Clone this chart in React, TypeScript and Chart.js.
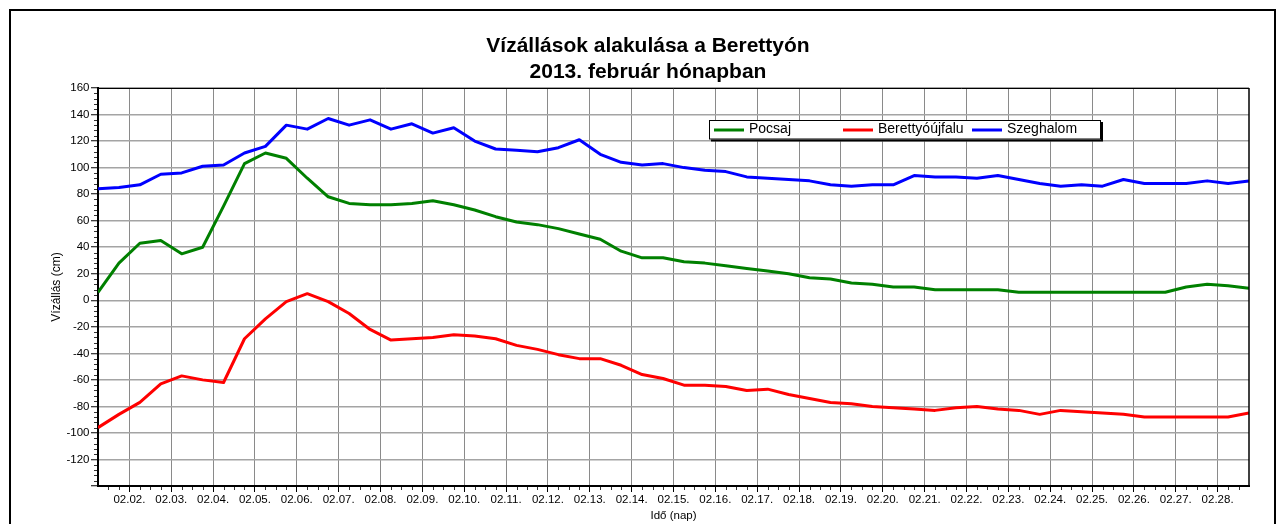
import React, { useEffect, useRef } from 'react';
import { Chart, registerables } from 'chart.js';

Chart.register(...registerables);

// Readings twice a day (06:00 and 18:00), February 2013, x value = day of month + hour/24
const readingDays = [1, 2, 3, 4, 5, 6, 7, 8, 9, 10, 11, 12, 13, 14, 15, 16, 17, 18, 19, 20, 21, 22, 23, 24, 25, 26, 27, 28];
const readingHours = [6, 18];
const readingTimes = readingDays.flatMap((d) => readingHours.map((h) => d + h / 24));

const pocsaj = [
  6, 28, 43, 45, 35, 40, 71, 103, 111, 107, 92, 78, 73, 72,
  72, 73, 75, 72, 68, 63, 59, 57, 54, 50, 46, 37, 32, 32,
  29, 28, 26, 24, 22, 20, 17, 16, 13, 12, 10, 10, 8, 8,
  8, 8, 6, 6, 6, 6, 6, 6, 6, 6, 10, 12, 11, 9,
];

const berettyoujfalu = [
  -96, -86, -77, -63, -57, -60, -62, -29, -14, -1, 5, -1, -10, -22,
  -30, -29, -28, -26, -27, -29, -34, -37, -41, -44, -44, -49, -56, -59,
  -64, -64, -65, -68, -67, -71, -74, -77, -78, -80, -81, -82, -83, -81,
  -80, -82, -83, -86, -83, -84, -85, -86, -88, -88, -88, -88, -88, -85,
];

const szeghalom = [
  84, 85, 87, 95, 96, 101, 102, 111, 116, 132, 129, 137, 132, 136,
  129, 133, 126, 130, 120, 114, 113, 112, 115, 121, 110, 104, 102, 103,
  100, 98, 97, 93, 92, 91, 90, 87, 86, 87, 87, 94, 93, 93,
  92, 94, 91, 88, 86, 87, 86, 91, 88, 88, 88, 90, 88, 90,
];

const seriesNames = ['Pocsaj', 'Berettyóújfalu', 'Szeghalom'];
const seriesColors = ['#008000', '#ff0000', '#0000ff'];
const seriesValues = [pocsaj, berettyoujfalu, szeghalom];

const tickDays = [2, 3, 4, 5, 6, 7, 8, 9, 10, 11, 12, 13, 14, 15, 16, 17, 18, 19, 20, 21, 22, 23, 24, 25, 26, 27, 28];
const tickLabels = [
  '02.02.', '02.03.', '02.04.', '02.05.', '02.06.', '02.07.', '02.08.', '02.09.', '02.10.',
  '02.11.', '02.12.', '02.13.', '02.14.', '02.15.', '02.16.', '02.17.', '02.18.', '02.19.',
  '02.20.', '02.21.', '02.22.', '02.23.', '02.24.', '02.25.', '02.26.', '02.27.', '02.28.',
];

const titleLines = ['Vízállások alakulása a Berettyón', '2013. február hónapban'];
const xTitle = 'Idő (nap)';
const yTitle = 'Vízállás (cm)';

const FONT = "'Liberation Sans', Arial, Helvetica, sans-serif";

const decorPlugin = {
  id: 'decor',
  afterDraw(chart: any) {
    const { ctx, chartArea: a, scales } = chart;
    const xs = scales.x;
    const ys = scales.y;
    ctx.save();
    const seg = (x1: number, y1: number, x2: number, y2: number) => {
      ctx.beginPath();
      ctx.moveTo(x1, y1);
      ctx.lineTo(x2, y2);
      ctx.stroke();
    };
    // top and right border of plot area
    ctx.strokeStyle = '#000';
    ctx.lineWidth = 1;
    seg(a.left, Math.round(a.top) + 0.5, a.right, Math.round(a.top) + 0.5);
    ctx.lineWidth = 1.5;
    seg(a.right, a.top, a.right, a.bottom);

    // minor ticks
    ctx.lineWidth = 1;
    ctx.strokeStyle = '#333';
    for (let v = 1.5; v < 28.74; v += 0.25) {
      if (Math.abs(v - Math.round(v)) < 1e-6) continue;
      const px = Math.round(xs.getPixelForValue(v)) + 0.5;
      seg(px, a.bottom + 1, px, a.bottom + 4);
    }
    for (let v = -136; v < 160; v += 4) {
      if (v % 20 === 0) continue;
      const py = Math.round(ys.getPixelForValue(v)) + 0.5;
      seg(a.left - 4, py, a.left - 1, py);
    }

    // title
    ctx.fillStyle = '#000';
    ctx.textAlign = 'center';
    ctx.textBaseline = 'middle';
    ctx.font = `bold 21px ${FONT}`;
    ctx.fillText(titleLines[0], 648, 46);
    ctx.fillText(titleLines[1], 648, 72);

    // legend box
    const bx = 709, by = 120, bw = 392, bh = 19.5;
    ctx.fillStyle = '#000';
    ctx.fillRect(bx + 2, by + 2, bw, bh);
    ctx.fillStyle = '#fff';
    ctx.fillRect(bx, by, bw, bh);
    ctx.strokeStyle = '#000';
    ctx.lineWidth = 1;
    ctx.strokeRect(bx + 0.5, by + 0.5, bw - 1, bh - 1);
    const itemX = [714, 843, 972];
    ctx.font = `14px ${FONT}`;
    ctx.textAlign = 'left';
    ctx.textBaseline = 'middle';
    seriesNames.forEach((name, i) => {
      ctx.strokeStyle = seriesColors[i];
      ctx.lineWidth = 3;
      seg(itemX[i], 130, itemX[i] + 30, 130);
      ctx.fillStyle = '#000';
      ctx.fillText(name, itemX[i] + 35, 129.5);
    });
    ctx.restore();
  },
};

export default function App() {
  const canvasRef = useRef<HTMLCanvasElement | null>(null);

  useEffect(() => {
    if (!canvasRef.current) return;
    const chart = new Chart(canvasRef.current, {
      type: 'line',
      data: {
        datasets: seriesValues.map((vals, i) => ({
          label: seriesNames[i],
          data: vals.map((v, j) => ({ x: readingTimes[j], y: v })),
          borderColor: seriesColors[i],
          backgroundColor: seriesColors[i],
          borderWidth: 3,
          pointRadius: 0,
          tension: 0,
          borderJoinStyle: 'round' as const,
          fill: false,
        })),
      },
      options: {
        animation: false,
        responsive: false,
        devicePixelRatio: 1,
        layout: { padding: { left: 0, top: 88, right: 28, bottom: 0 } },
        plugins: {
          legend: { display: false },
          title: { display: false },
          tooltip: { enabled: false },
        },
        scales: {
          x: {
            type: 'linear',
            min: readingTimes[0],
            max: readingTimes[readingTimes.length - 1],
            afterBuildTicks: (scale: any) => {
              scale.ticks = tickDays.map((d) => ({ value: d }));
            },
            afterFit: (scale: any) => {
              scale.height = 38;
            },
            ticks: {
              autoSkip: false,
              maxRotation: 0,
              padding: 1,
              color: '#000',
              font: { family: FONT, size: 11.5 },
              callback: (value: any) => {
                const idx = tickDays.indexOf(Number(value));
                return idx >= 0 ? tickLabels[idx] : '';
              },
            },
            grid: {
              color: '#8a8a8a',
              lineWidth: 1,
              tickLength: 6,
              tickColor: '#000',
              tickWidth: 1,
            },
            border: { display: true, color: '#000', width: 2 },
            title: {
              display: true,
              text: xTitle,
              color: '#000',
              font: { family: FONT, size: 11.5, lineHeight: 1.2 },
              padding: { top: 0, bottom: 1 },
            },
          },
          y: {
            type: 'linear',
            min: -140,
            max: 160,
            afterFit: (scale: any) => {
              scale.width = 98;
            },
            ticks: {
              stepSize: 20,
              padding: 1.5,
              color: '#000',
              font: { family: FONT, size: 11.5 },
              callback: (value: any) => (Number(value) === -140 ? '' : String(value)),
            },
            grid: {
              color: '#a4a4a4',
              lineWidth: 1.5,
              tickLength: 7,
              tickColor: '#000',
              tickWidth: 1,
            },
            border: { display: true, color: '#000', width: 2 },
            title: {
              display: true,
              text: yTitle,
              color: '#000',
              font: { family: FONT, size: 12, lineHeight: 1.2 },
              padding: { top: 49, bottom: 0 },
            },
          },
        },
      } as any,
      plugins: [decorPlugin],
    });
    return () => chart.destroy();
  }, []);

  return (
    <div
      style={{
        position: 'fixed',
        left: 0,
        top: 0,
        width: 1277,
        height: 524,
        overflow: 'hidden',
        background: '#fff',
      }}
    >
      <canvas
        ref={canvasRef}
        width={1277}
        height={524}
        style={{ position: 'absolute', left: 0, top: 0, display: 'block' }}
      />
      <div
        style={{
          position: 'absolute',
          left: 9,
          top: 9,
          width: 1267,
          height: 600,
          border: '2px solid #000',
          boxSizing: 'border-box',
          pointerEvents: 'none',
        }}
      />
    </div>
  );
}
